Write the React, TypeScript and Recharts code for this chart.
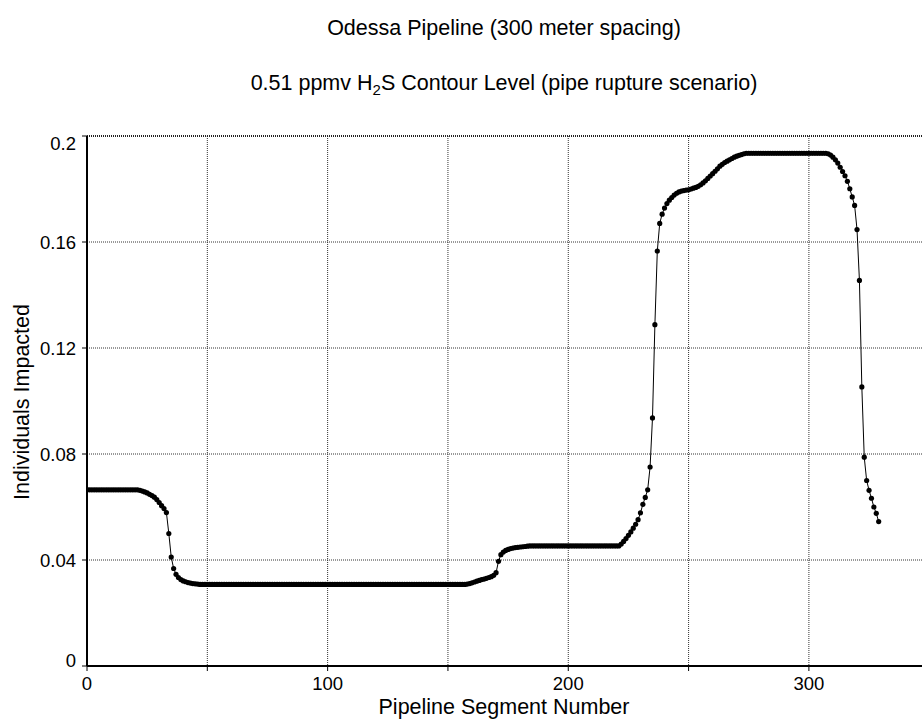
import React from "react";
import {
  LineChart,
  Line,
  XAxis,
  YAxis,
  CartesianGrid,
  ReferenceLine,
} from "recharts";

// individuals impacted per pipeline segment, read row by row (10 segments per row)
const individualsImpacted = [
  0.0665, 0.0665, 0.0665, 0.0665, 0.0665, 0.0665, 0.0665, 0.0665, 0.0665, 0.0665,
  0.0665, 0.0665, 0.0665, 0.0665, 0.0665, 0.0665, 0.0665, 0.0665, 0.0665, 0.0665,
  0.0665, 0.0665, 0.0663, 0.066, 0.0657, 0.0653, 0.0648, 0.0643, 0.0637, 0.0628,
  0.0617, 0.0605, 0.0594, 0.0579, 0.05, 0.0411, 0.0368, 0.0346, 0.0334, 0.0326,
  0.0321, 0.0318, 0.0315, 0.0313, 0.0311, 0.031, 0.0309, 0.0308, 0.0308, 0.0308,
  0.0308, 0.0308, 0.0308, 0.0308, 0.0308, 0.0308, 0.0308, 0.0308, 0.0308, 0.0308,
  0.0308, 0.0308, 0.0308, 0.0308, 0.0308, 0.0308, 0.0308, 0.0308, 0.0308, 0.0308,
  0.0308, 0.0308, 0.0308, 0.0308, 0.0308, 0.0308, 0.0308, 0.0308, 0.0308, 0.0308,
  0.0308, 0.0308, 0.0308, 0.0308, 0.0308, 0.0308, 0.0308, 0.0308, 0.0308, 0.0308,
  0.0308, 0.0308, 0.0308, 0.0308, 0.0308, 0.0308, 0.0308, 0.0308, 0.0308, 0.0308,
  0.0308, 0.0308, 0.0308, 0.0308, 0.0308, 0.0308, 0.0308, 0.0308, 0.0308, 0.0308,
  0.0308, 0.0308, 0.0308, 0.0308, 0.0308, 0.0308, 0.0308, 0.0308, 0.0308, 0.0308,
  0.0308, 0.0308, 0.0308, 0.0308, 0.0308, 0.0308, 0.0308, 0.0308, 0.0308, 0.0308,
  0.0308, 0.0308, 0.0308, 0.0308, 0.0308, 0.0308, 0.0308, 0.0308, 0.0308, 0.0308,
  0.0308, 0.0308, 0.0308, 0.0308, 0.0308, 0.0308, 0.0308, 0.0308, 0.0308, 0.0308,
  0.0308, 0.0308, 0.0308, 0.0308, 0.0308, 0.0308, 0.0308, 0.0308, 0.0309, 0.0311,
  0.0314, 0.0317, 0.032, 0.0323, 0.0326, 0.0328, 0.0331, 0.0334, 0.0337, 0.0342,
  0.0352, 0.0395, 0.042, 0.043, 0.0436, 0.044, 0.0443, 0.0445, 0.0447, 0.0448,
  0.0449, 0.045, 0.0451, 0.0452, 0.0453, 0.0453, 0.0453, 0.0453, 0.0453, 0.0453,
  0.0453, 0.0453, 0.0453, 0.0453, 0.0453, 0.0453, 0.0453, 0.0453, 0.0453, 0.0453,
  0.0453, 0.0453, 0.0453, 0.0453, 0.0453, 0.0453, 0.0453, 0.0453, 0.0453, 0.0453,
  0.0453, 0.0453, 0.0453, 0.0453, 0.0453, 0.0453, 0.0453, 0.0453, 0.0453, 0.0453,
  0.0453, 0.0453, 0.046, 0.047, 0.0481, 0.0493, 0.0506, 0.052, 0.0535, 0.0552,
  0.0578, 0.061, 0.0636, 0.0665, 0.0751, 0.0936, 0.1288, 0.1566, 0.167, 0.1705,
  0.1728, 0.1745, 0.1758, 0.1768, 0.1777, 0.1784, 0.1789, 0.1792, 0.1794, 0.1796,
  0.1797, 0.18, 0.1803, 0.1806, 0.181, 0.1816, 0.1823, 0.1831, 0.184, 0.1849,
  0.1858, 0.1867, 0.1876, 0.1886, 0.1893, 0.19, 0.1905, 0.191, 0.1915, 0.192,
  0.1924, 0.1927, 0.193, 0.1933, 0.1935, 0.1935, 0.1935, 0.1935, 0.1935, 0.1935,
  0.1935, 0.1935, 0.1935, 0.1935, 0.1935, 0.1935, 0.1935, 0.1935, 0.1935, 0.1935,
  0.1935, 0.1935, 0.1935, 0.1935, 0.1935, 0.1935, 0.1935, 0.1935, 0.1935, 0.1935,
  0.1935, 0.1935, 0.1935, 0.1935, 0.1935, 0.1935, 0.1935, 0.1935, 0.1933, 0.1928,
  0.192, 0.191, 0.1898, 0.1882, 0.1866, 0.185, 0.1829, 0.1801, 0.177, 0.1738,
  0.1647, 0.1455, 0.1053, 0.0788, 0.07, 0.0663, 0.0633, 0.06, 0.0576, 0.0545,
];

const xTicks = [0, 50, 100, 150, 200, 250, 300];
const xLabelled = [0, 100, 200, 300];
const yTicks = [0, 0.04, 0.08, 0.12, 0.16, 0.2];

const data = individualsImpacted.map((v, i) => ({ segment: i, value: v }));

const FONT = "'Liberation Sans', Arial, sans-serif";
const TICK_SIZE = 18.5;
const LABEL_SIZE = 21.5;

function YTick(props: any) {
  const { x, y, payload } = props;
  // the end labels sit inside the plot range, as in the original
  let dy = 6.5;
  if (payload.value === 0.2) dy = 14;
  if (payload.value === 0) dy = 1;
  return (
    <text x={x} y={y + dy} textAnchor="end" fontSize={TICK_SIZE} fill="#000" fontFamily={FONT}>
      {String(payload.value)}
    </text>
  );
}

function XTick(props: any) {
  const { x, y, payload } = props;
  if (!xLabelled.includes(payload.value)) return null;
  return (
    <text x={x} y={y + 17} textAnchor="middle" fontSize={TICK_SIZE} fill="#000" fontFamily={FONT}>
      {String(payload.value)}
    </text>
  );
}

export default function App() {
  return (
    <div
      style={{
        position: "absolute",
        left: 0,
        top: 0,
        width: 922,
        height: 723,
        background: "#fff",
        overflow: "hidden",
      }}
    >
      <LineChart
        width={922}
        height={723}
        data={data}
        margin={{ top: 136, right: 0, bottom: 0, left: 0 }}
        style={{ position: "absolute", left: 0, top: 0 }}
      >
        <CartesianGrid
          stroke="#333"
          strokeDasharray="1 1"
          horizontalValues={yTicks}
          verticalValues={xTicks}
        />
        <ReferenceLine y={0.2} stroke="#222" strokeWidth={2} strokeDasharray="1 1" />
        <XAxis
          type="number"
          dataKey="segment"
          domain={[0, 347]}
          ticks={xTicks}
          height={57}
          tickSize={5}
          tick={<XTick />}
          axisLine={{ stroke: "#000", strokeWidth: 2 }}
          tickLine={{ stroke: "#000" }}
          allowDataOverflow
        />
        <YAxis
          type="number"
          domain={[0, 0.2]}
          ticks={yTicks}
          width={87}
          tickSize={5}
          tickMargin={6}
          tick={<YTick />}
          axisLine={{ stroke: "#000", strokeWidth: 2 }}
          tickLine={{ stroke: "#000" }}
          allowDataOverflow
        />
        <Line
          type="linear"
          dataKey="value"
          stroke="#000"
          strokeWidth={1}
          dot={{ r: 2.6, fill: "#000", stroke: "none" }}
          isAnimationActive={false}
        />
      </LineChart>
      <svg
        width={922}
        height={723}
        style={{ position: "absolute", left: 0, top: 0, pointerEvents: "none" }}
        fontFamily={FONT}
        fontSize={LABEL_SIZE}
        fill="#000"
      >
        <text x={504} y={35} textAnchor="middle">
          Odessa Pipeline (300 meter spacing)
        </text>
        <text x={504} y={90} textAnchor="middle">
          0.51 ppmv H
          <tspan fontSize={15} dy={5}>
            2
          </tspan>
          <tspan dy={-5}>S Contour Level (pipe rupture scenario)</tspan>
        </text>
        <text x={29} y={402} textAnchor="middle" transform="rotate(-90 29 402)">
          Individuals Impacted
        </text>
        <text x={504} y={714} textAnchor="middle">
          Pipeline Segment Number
        </text>
      </svg>
    </div>
  );
}
